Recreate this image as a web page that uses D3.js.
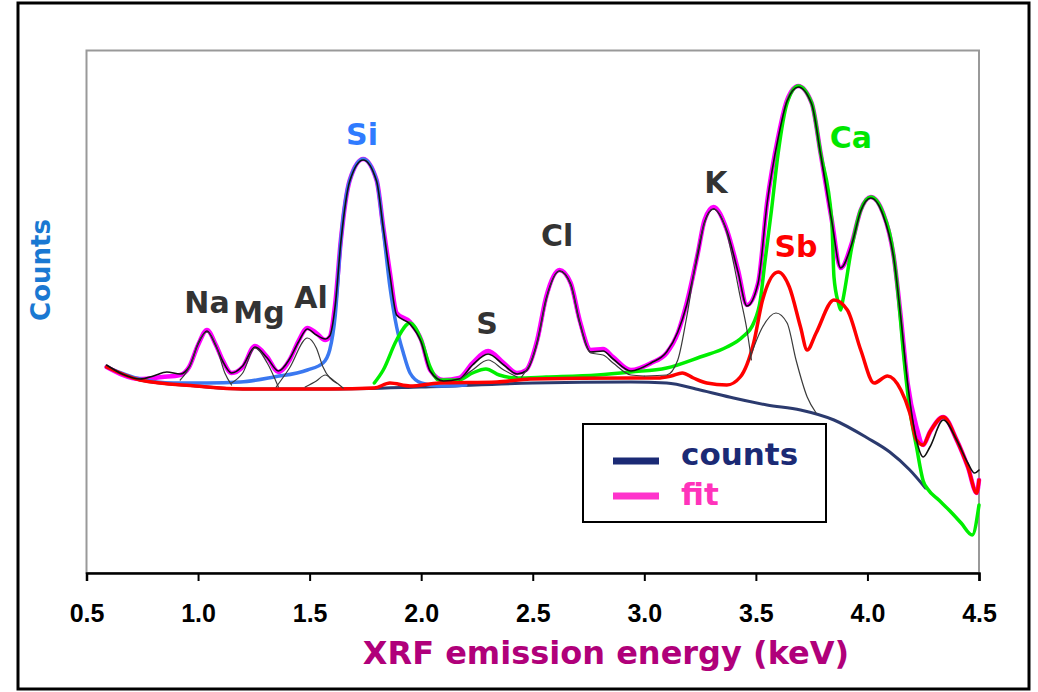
<!DOCTYPE html>
<meta charset="utf-8">
<script src="https://d3js.org/d3.v7.min.js"></script>
<style>
  body { margin: 0; background: #fff; }
  text { font-family: "DejaVu Sans", Verdana, sans-serif; font-weight: bold; }
  .tick-label { font-family: "Liberation Sans", Arial, sans-serif; }
</style>
<svg id="chart" width="1038" height="692"></svg>
<script>

// energies in keV, counts in arbitrary units
var fitE = [0.59,0.74,0.84,0.92,0.96,1.00,1.04,1.08,1.11,1.15,1.20,1.255,1.31,1.36,1.41,1.45,1.49,1.53,1.57,1.59,1.615,1.64,1.68,1.74,1.80,1.83,1.86,1.89,1.95,2.00,2.04,2.10,2.17,2.23,2.30,2.37,2.43,2.47,2.52,2.56,2.62,2.67,2.71,2.76,2.815,2.86,2.94,3.03,3.10,3.15,3.19,3.24,3.27,3.31,3.37,3.42,3.46,3.51,3.55,3.60,3.64,3.69,3.75,3.79,3.84,3.88,3.93,3.97,4.015,4.07,4.12,4.15,4.18,4.22,4.25,4.28,4.34,4.40,4.45,4.49,4.50];
var fitC = [206,194,196,198,206,228,243,228,213,200,206,227,216,201,213,232,245,240,233,236,270,333,393,414,393,346,300,260,251,233,203,193,195,210,222,210,200,203,233,276,303,290,253,223,224,216,203,210,220,240,270,320,353,366,343,303,268,290,370,436,473,487,470,420,353,305,330,363,376,360,313,255,190,146,128,141,156,133,106,80,93];

var countsE = [0.59,0.66,0.74,0.80,0.86,0.92,0.96,1.00,1.04,1.08,1.11,1.15,1.20,1.255,1.31,1.36,1.41,1.45,1.49,1.53,1.57,1.59,1.615,1.64,1.68,1.74,1.80,1.83,1.86,1.89,1.95,2.00,2.04,2.10,2.17,2.23,2.30,2.37,2.43,2.47,2.52,2.56,2.62,2.67,2.71,2.76,2.815,2.86,2.94,3.03,3.10,3.15,3.19,3.24,3.27,3.31,3.37,3.42,3.46,3.51,3.55,3.60,3.64,3.69,3.75,3.79,3.84,3.88,3.93,3.97,4.015,4.07,4.12,4.15,4.18,4.22,4.25,4.28,4.34,4.40,4.45,4.48,4.50];
var countsC = [208,199,194,197,201,199,206,229,242,227,212,200,207,226,215,202,214,231,244,238,234,237,268,331,392,413,392,345,298,258,249,231,202,192,194,208,219,208,199,202,231,274,302,289,251,221,222,214,202,210,221,241,268,319,351,364,342,301,267,290,369,435,472,486,469,419,352,305,329,362,375,358,312,254,190,133,116,126,153,133,110,100,103];

var bgE = [0.59,0.74,0.99,1.20,1.60,2.00,2.50,2.94,3.10,3.25,3.40,3.55,3.70,3.85,4.00,4.10,4.19,4.26];
var bgC = [206,193,187,184,184,186,190,191,190,183,175,168,163,153,135,121,103,85];

var siE = [0.59,0.74,0.89,1.04,1.19,1.34,1.49,1.56,1.59,1.615,1.64,1.68,1.74,1.80,1.83,1.86,1.89,1.92,1.95,2.00,2.08,2.20];
var siC = [206,194,190,190,191,196,203,210,223,258,333,393,414,393,343,286,246,220,200,190,187,188];

var caE = [1.79,1.83,1.89,1.95,2.00,2.04,2.08,2.17,2.23,2.29,2.35,2.43,2.56,2.79,2.94,3.10,3.25,3.37,3.44,3.49,3.52,3.54,3.57,3.60,3.64,3.69,3.75,3.79,3.84,3.85,3.87,3.88,3.89,3.93,3.97,4.015,4.07,4.12,4.14,4.16,4.19,4.22,4.25,4.27,4.32,4.37,4.42,4.47,4.50];
var caC = [190,203,233,250,233,206,193,193,200,204,198,195,196,198,201,205,216,226,236,250,273,310,363,420,470,487,470,420,353,296,270,263,273,326,363,376,360,313,273,223,163,126,92,84,73,62,50,38,68];

var sbE = [0.59,0.74,0.99,1.20,1.59,1.79,1.86,1.95,2.08,2.34,2.49,2.94,3.06,3.12,3.17,3.22,3.28,3.37,3.43,3.49,3.53,3.60,3.65,3.70,3.73,3.77,3.85,3.91,3.97,4.03,4.09,4.15,4.19,4.22,4.25,4.28,4.34,4.40,4.45,4.49,4.50];
var sbC = [206,193,187,184,184,185,190,187,190,191,194,195,195,197,200,195,190,188,196,230,273,301,286,246,223,240,273,263,223,190,197,183,160,133,128,141,156,133,106,80,93];

// thin single-element lines
var naE = [0.92,0.97,1.00,1.04,1.08,1.12,1.15], naC = [193,210,230,241,228,200,188];
var mgE = [1.15,1.20,1.255,1.31,1.36], mgC = [190,200,225,210,186];
var alE = [1.35,1.41,1.49,1.53,1.56,1.62], alC = [186,205,235,225,206,190];
var albE = [1.48,1.53,1.57,1.61,1.65], albC = [186,192,198,192,185];
var sE = [2.17,2.23,2.30,2.37,2.43], sC = [193,203,213,203,196];
var clE = [2.45,2.52,2.56,2.62,2.67,2.71,2.76,2.815,2.86,2.94,3.00], clC = [196,230,273,302,288,250,220,218,210,198,197];
var kE = [3.00,3.10,3.15,3.19,3.24,3.27,3.31,3.37,3.40,3.43,3.46,3.48], kC = [197,198,213,256,323,350,364,340,310,276,243,213];
var kbE = [3.47,3.53,3.59,3.64,3.68,3.73,3.77], kbC = [213,246,260,250,213,176,160];

var xTicks = [0.5,1.0,1.5,2.0,2.5,3.0,3.5,4.0,4.5];

var labelNames = ["Na","Mg","Al","Si","S","Cl","K","Sb","Ca"];
var labelE = [1.04,1.273,1.506,1.735,2.295,2.609,3.321,3.68,3.926];
var labelC = [260,250,265,428,239,327,380,316,425];
var labelColor = ["#333","#333","#333","#2f7bff","#333","#333","#333","#ff0000","#00e600"];

var svg = d3.select("#chart");

// outer frame
svg.append("rect")
  .attr("x", 18).attr("y", 3).attr("width", 1011).attr("height", 686)
  .attr("fill", "#fff").attr("stroke", "#000").attr("stroke-width", 3);

var plotL = 86.5, plotR = 979, plotT = 50.5, plotB = 573;

var x = d3.scaleLinear().domain([0.5, 4.5]).range([plotL, plotR]);
var y = d3.scaleLinear().domain([0, 522.5]).range([plotB, plotT]);

// plot frame
svg.append("rect")
  .attr("x", plotL).attr("y", plotT).attr("width", plotR - plotL).attr("height", plotB - plotT)
  .attr("fill", "none").attr("stroke", "#999").attr("stroke-width", 2);

// x axis
var xAxis = svg.append("g")
  .attr("transform", "translate(0," + plotB + ")")
  .call(d3.axisBottom(x).tickValues(xTicks).tickSize(8).tickFormat(d3.format(".1f")));
xAxis.select(".domain").attr("stroke", "#000").attr("stroke-width", 2.5);
xAxis.selectAll(".tick line").attr("stroke", "#000").attr("stroke-width", 2);
xAxis.selectAll(".tick text")
  .attr("class", "tick-label")
  .attr("y", 49).attr("dy", 0)
  .attr("fill", "#000")
  .style("font-size", "25px");

function draw(es, cs, color, width) {
  var pts = es.map(function(e, i) { return [e, cs[i]]; });
  var line = d3.line()
    .x(function(d) { return x(d[0]); })
    .y(function(d) { return y(d[1]); })
    .curve(d3.curveMonotoneX);
  svg.append("path")
    .datum(pts)
    .attr("d", line)
    .attr("fill", "none")
    .attr("stroke", color)
    .attr("stroke-width", width)
    .attr("stroke-linejoin", "round")
    .attr("stroke-linecap", "round");
}

draw(bgE, bgC, "#2b3a6e", 3);
draw(fitE, fitC, "#ff00ff", 4.5);
draw(siE, siC, "#3a78f0", 3.5);
draw(caE, caC, "#00ee00", 3.5);
draw(sbE, sbC, "#ff0000", 3.5);
draw(countsE, countsC, "#111", 1.6);
[[naE,naC],[mgE,mgC],[alE,alC],[albE,albC],[sE,sC],[clE,clC],[kE,kC],[kbE,kbC]].forEach(function(p) {
  draw(p[0], p[1], "#3a3a3a", 1.2);
});

// element labels
svg.selectAll(".elem")
  .data(labelNames)
  .enter()
  .append("text")
    .attr("class", "elem")
    .attr("x", function(d, i) { return x(labelE[i]); })
    .attr("y", function(d, i) { return y(labelC[i]); })
    .attr("text-anchor", "middle")
    .attr("fill", function(d, i) { return labelColor[i]; })
    .style("font-size", "30px")
    .text(function(d) { return d; });

// legend
svg.append("rect")
  .attr("x", 583).attr("y", 424).attr("width", 243).attr("height", 98)
  .attr("fill", "#fff").attr("stroke", "#000").attr("stroke-width", 2);
svg.append("line").attr("x1", 613).attr("x2", 659).attr("y1", 461).attr("y2", 461)
  .attr("stroke", "#1b2a75").attr("stroke-width", 7);
svg.append("line").attr("x1", 613).attr("x2", 659).attr("y1", 496).attr("y2", 496)
  .attr("stroke", "#ff33cc").attr("stroke-width", 7);
svg.append("text").attr("x", 681).attr("y", 465).attr("fill", "#1b2a75")
  .style("font-size", "31px").text("counts");
svg.append("text").attr("x", 681).attr("y", 505).attr("fill", "#ff33bb")
  .style("font-size", "31px").text("fit");

// axis titles
svg.append("text")
  .attr("x", 606).attr("y", 664)
  .attr("text-anchor", "middle")
  .attr("fill", "#b0007a")
  .style("font-size", "32px")
  .text("XRF emission energy (keV)");

svg.append("text")
  .attr("transform", "translate(50,270) rotate(-90)")
  .attr("text-anchor", "middle")
  .attr("fill", "#1a78d2")
  .style("font-size", "26px")
  .text("Counts");

</script>
